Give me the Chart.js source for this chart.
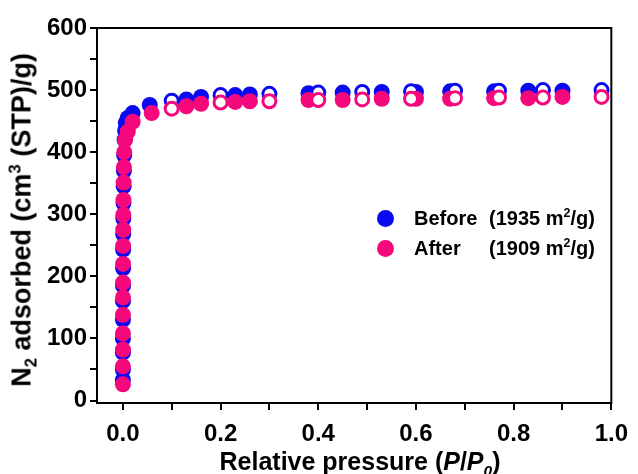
<!DOCTYPE html>
<html><head><meta charset="utf-8">
<script src="https://cdn.jsdelivr.net/npm/chart.js@4/dist/chart.umd.min.js"></script>
<style>
html,body{margin:0;padding:0;background:#fff;}
#wrap{position:relative;width:638px;height:474px;overflow:hidden;}
#c{position:absolute;left:0;top:0;}
.t{position:absolute;font-family:"Liberation Sans",Arial,sans-serif;font-weight:bold;color:#000;white-space:nowrap;line-height:1;}
.t sub,.t sup{font-size:62%;line-height:0;}
#ytitle{left:22px;top:220px;font-size:27px;transform:translate(-50%,-50%) rotate(-90deg);}
#xtitle{left:360px;top:461px;font-size:25px;transform:translate(-50%,-50%);}
.leg{position:absolute;font-family:"Liberation Sans",Arial,sans-serif;font-weight:bold;font-size:20px;color:#000;white-space:nowrap;line-height:1;}
.leg sup{font-size:62%;line-height:0;}
.dot{position:absolute;width:17px;height:17px;border-radius:50%;}
</style></head>
<body>
<div id="wrap">
<canvas id="c" width="638" height="474"></canvas>
<div class="t" id="ytitle">N<sub>2</sub> adsorbed (cm<sup>3</sup> (STP)/g)</div>
<div class="t" id="xtitle">Relative pressure (<i>P</i>/<i>P<sub>0</sub></i>)</div>
<div class="dot" style="left:377px;top:210px;background:#0A0AF0;"></div>
<div class="leg" style="left:414px;top:208px;">Before</div>
<div class="leg" style="left:489px;top:208px;">(1935 m<sup>2</sup>/g)</div>
<div class="dot" style="left:377px;top:240px;background:#F5087C;"></div>
<div class="leg" style="left:414px;top:238px;">After</div>
<div class="leg" style="left:489px;top:238px;">(1909 m<sup>2</sup>/g)</div>
</div>
<script>
// ---- data ----
const beforeAdsP = [0.00002,0.00004,0.00007,0.0001,0.00015,0.0002,0.0003,0.0004,0.0005,0.0007,0.0009,0.0012,0.0016,0.002,0.0026,0.0034,0.0045,0.006,0.01,0.02,0.055,0.13,0.16,0.23,0.26,0.38,0.45,0.53,0.60,0.67,0.76,0.83,0.90];
const beforeAdsV = [33,50,77,100,130,160,185,213,243,268,293,318,345,370,395,420,435,447,455,463,476,485,489,492,493,495,496,497,497,498,498,499,499];
const beforeDesP = [0.98,0.86,0.77,0.68,0.59,0.49,0.40,0.30,0.20,0.10];
const beforeDesV = [500,500,499,499,498,497,496,494,492,483];

const afterAdsP = [0.00002,0.00005,0.00008,0.00012,0.00018,0.00025,0.00033,0.00042,0.00055,0.0007,0.0009,0.0012,0.0016,0.0021,0.0028,0.0045,0.01,0.02,0.059,0.13,0.16,0.23,0.26,0.38,0.45,0.53,0.60,0.67,0.76,0.83,0.90];
const afterAdsV = [26,55,82,108,138,166,190,220,249,275,299,323,351,376,400,420,433,449,463,474,478,481,482,484,484,486,486,486,487,487,489];
const afterDesP = [0.98,0.86,0.77,0.68,0.59,0.49,0.40,0.30,0.20,0.10];
const afterDesV = [489,488,488,487,486,485,484,482,480,470];

const xTicks = [0,0.1,0.2,0.3,0.4,0.5,0.6,0.7,0.8,0.9,1.0];
const yTicks = [0,50,100,150,200,250,300,350,400,450,500,550,600];

const BLUE = '#0A0AF0', PINK = '#F5087C';
const pts = (xs, ys) => xs.map((x, i) => ({x: x, y: ys[i]}));
const tickFont = {family: '"Liberation Sans", Arial, sans-serif', weight: 'bold', size: 24};

const boxPlugin = {
  id: 'box',
  afterDraw(chart) {
    const a = chart.chartArea, ctx = chart.ctx;
    ctx.save();
    ctx.strokeStyle = '#000'; ctx.lineWidth = 2;
    ctx.strokeRect(a.left, a.top, a.right - a.left, a.bottom - a.top);
    ctx.restore();
  }
};

new Chart(document.getElementById('c'), {
  type: 'scatter',
  data: {datasets: [
    {label: 'Before ads', data: pts(beforeAdsP, beforeAdsV), pointRadius: 8, pointBackgroundColor: BLUE, pointBorderColor: BLUE, pointBorderWidth: 0, order: 4},
    {label: 'Before des', data: pts(beforeDesP, beforeDesV), pointRadius: 6.5, pointBackgroundColor: '#fff', pointBorderColor: BLUE, pointBorderWidth: 3, order: 3},
    {label: 'After ads', data: pts(afterAdsP, afterAdsV), pointRadius: 8, pointBackgroundColor: PINK, pointBorderColor: PINK, pointBorderWidth: 0, order: 2},
    {label: 'After des', data: pts(afterDesP, afterDesV), pointRadius: 6.5, pointBackgroundColor: '#fff', pointBorderColor: PINK, pointBorderWidth: 3, order: 1}
  ]},
  options: {
    responsive: false, animation: false,
    layout: {padding: {left: 0, right: 21, top: 28, bottom: 0}},
    plugins: {legend: {display: false}, tooltip: {enabled: false}},
    elements: {point: {hoverRadius: 8}},
    scales: {
      x: {
        type: 'linear', min: -0.053, max: 1.0,
        afterBuildTicks: s => { s.ticks = xTicks.map(v => ({value: v})); },
        afterFit: s => { s.height = 71; },
        ticks: {color: '#000', font: tickFont, padding: 10, maxRotation: 0, autoSkip: false,
          callback: (v) => (Math.round(v * 10) % 2 === 0 ? v.toFixed(1) : '')},
        grid: {drawOnChartArea: false, drawTicks: true, tickLength: 7, color: '#000', lineWidth: 2},
        border: {display: true, color: '#000', width: 2}
      },
      y: {
        type: 'linear', min: -4, max: 600,
        afterBuildTicks: s => { s.ticks = yTicks.map(v => ({value: v})); },
        afterFit: s => { s.width = 97; },
        ticks: {color: '#000', font: tickFont, padding: 3, autoSkip: false,
          callback: (v) => (v % 100 === 0 ? String(v) : '')},
        grid: {drawOnChartArea: false, drawTicks: true, tickLength: 7, color: '#000', lineWidth: 2},
        border: {display: true, color: '#000', width: 2}
      }
    }
  },
  plugins: [boxPlugin]
});
</script>
</body></html>
